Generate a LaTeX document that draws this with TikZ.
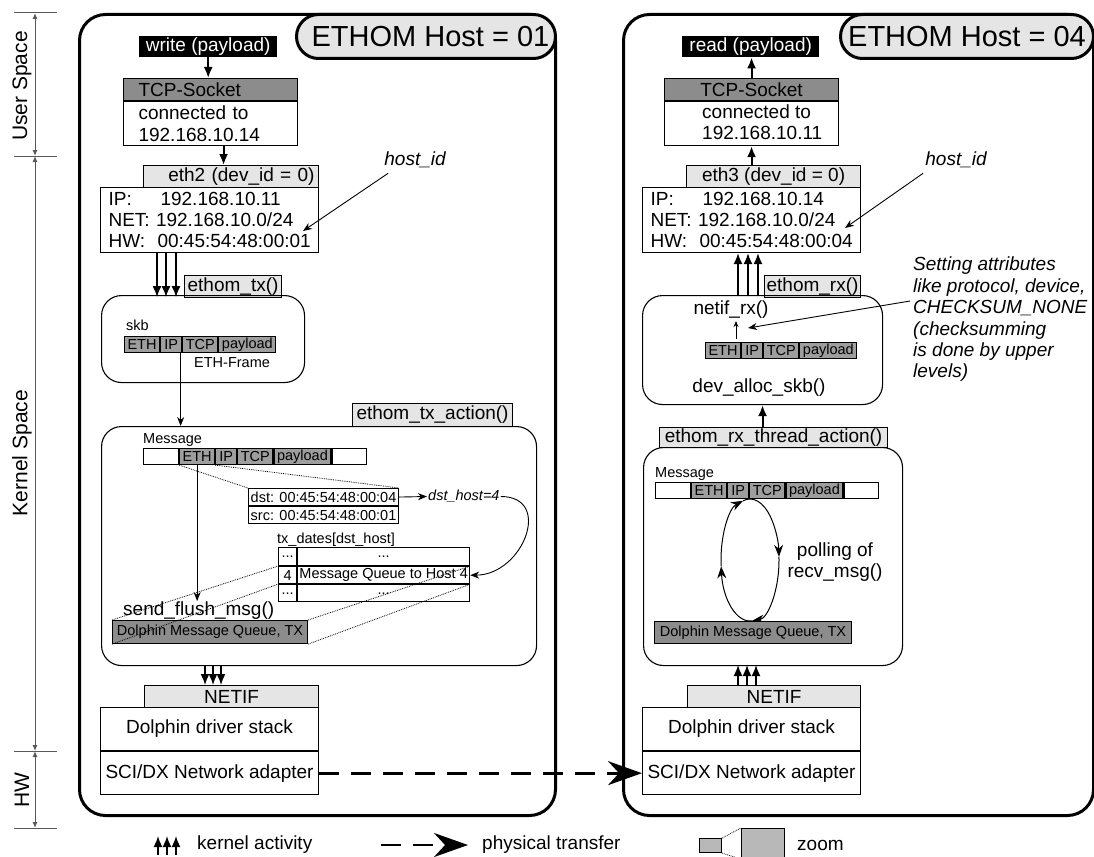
\documentclass[tikz,border=0pt]{standalone}
\usepackage{fontspec}
\setmainfont{Liberation Sans}
\usetikzlibrary{arrows.meta,positioning}
\definecolor{hdrgray}{gray}{0.55}
\definecolor{cellgray}{gray}{0.62}
\definecolor{lblgray}{gray}{0.9}
\definecolor{zoomgray}{gray}{0.72}
\newcommand{\fmain}{\fontsize{19}{21.4}\selectfont}
\newcommand{\fsmall}{\fontsize{14.5}{16}\selectfont}
\newcommand{\fhost}{\fontsize{29}{32}\selectfont}
\newcommand{\fside}{\fontsize{21}{24}\selectfont}
\newcommand{\pkt}[2]{%
  \node[cell,minimum width=35pt] (#1ETH) at (#2) {ETH};
  \node[cell,minimum width=21pt] (#1IP) at (#1ETH.north east) {IP};
  \node[cell,minimum width=35pt] (#1TCP) at (#1IP.north east) {TCP};
  \node[cell,minimum width=57pt] (#1Pay) at (#1TCP.north east) {payload};}

\begin{document}
\begin{tikzpicture}[x=1pt,y=1pt,font=\fmain,
  host/.style={draw,line width=3pt,rounded corners=26pt,anchor=north west,inner sep=0pt},
  pill/.style={draw,line width=3pt,fill=lblgray,rounded corners=22pt,anchor=north west,inner sep=0pt,minimum height=44pt,font=\fhost},
  bx/.style={draw,line width=1.1pt,anchor=north west,inner sep=0pt},
  lbl/.style={bx,fill=lblgray},
  cell/.style={bx,fill=cellgray,font=\fsmall,minimum height=16pt},
  ecell/.style={bx,fill=white,minimum height=16pt},
  call/.style={fill=black,text=white,anchor=north west,inner sep=0pt,minimum height=21pt},
  func/.style={draw,line width=1.1pt,rounded corners=20pt,anchor=north west,inner sep=0pt},
  txt/.style={inner sep=0pt},
  sml/.style={font=\fsmall,inner sep=0pt,anchor=base west},
  flow/.style={line width=2pt,-{Latex[length=11pt,width=9pt]}},
  kact/.style={line width=1.6pt,-{Latex[length=11pt,width=9pt]}},
  ptr/.style={line width=0.9pt,-{Stealth[length=9pt,width=7pt]}},
  zl/.style={line width=0.8pt,densely dotted},
  phys/.style={line width=2.8pt,dash pattern=on 20pt off 12pt,-{Stealth[length=34pt,width=24pt]}},
  poll/.style={line width=1pt,-{Stealth[length=12pt,width=9pt]}},
  brk/.style={black!65,line width=1pt},
]
\useasboundingbox (0,0) rectangle (1094,-856);

% layers
\foreach \y in {13,156,751,828}
  \draw[brk] (14,-\y) -- (57,-\y);
\draw[brk,{Latex[length=6pt,width=5pt]}-{Latex[length=6pt,width=5pt]}] (35,-13) -- (35,-156);
\draw[brk,{Latex[length=6pt,width=5pt]}-{Latex[length=6pt,width=5pt]}] (35,-156) -- (35,-751);
\draw[brk,{Latex[length=6pt,width=5pt]}-{Latex[length=6pt,width=5pt]}] (35,-751) -- (35,-828);
\node[rotate=90,font=\fside,txt] (usrL) at (22,-86) {User Space};
\node[rotate=90,font=\fside,txt] (krnL) at (22,-453) {Kernel Space};
\node[rotate=90,font=\fside,txt] (hwL) at (22,-790) {HW};

% sender
\node[host,minimum width=476pt,minimum height=801pt] (hostL) at (78,-13) {};
\node[pill,minimum width=259pt] (pillL) at (295,-13) {\hspace*{9pt}ETHOM Host = 01};
\node[call,minimum width=138pt] (writeL) at (139,-36) {write (payload)};
\node[bx,fill=hdrgray,minimum height=22pt,text width=144pt,inner xsep=15pt,align=left] (tcpLh) at (123,-78) {TCP-Socket};
\node[bx,minimum height=44pt,text width=144pt,inner xsep=15pt,align=left] (tcpLb) at (tcpLh.south west) {connected to\\192.168.10.14};
\node[lbl,minimum height=22pt,text width=167pt,inner xsep=4pt,align=right] (eth2L) at (143,-165) {eth2 (dev\_id = 0)};
\node[bx,minimum height=65pt,text width=202pt,inner xsep=8pt,align=left] (ipL) at (100,-187)
  {\makebox[52pt][l]{IP:}192.168.10.11\\NET: 192.168.10.0/24\\\makebox[49pt][l]{HW:}00:45:54:48:00:01};
\draw[flow] (writeL.south) -- (writeL.south |- tcpLh.north);
\draw[flow] ([xshift=13pt]tcpLb.south) -- ([xshift=13pt]tcpLb.south |- eth2L.north);
\node[font=\fmain\itshape,txt] (hidL) at (415,-160) {host\_id};
\coordinate (hidLtip) at (303,-231);
\draw[ptr] ([xshift=4pt,yshift=-5pt]hidL.south west) -- (hidLtip);

\node[lbl,minimum width=97pt,minimum height=22pt] (txL) at (184,-275) {ethom\_tx()};
\node[func,minimum width=203pt,minimum height=87pt] (skbL) at (101,-295) {};
\foreach \k in {57,66,76}
  \draw[kact] ([xshift=\k pt]ipL.south west) -- ++(0,-44);
\node[sml] (skbT) at (126,-330) {skb};
\pkt{sk}{124,-336}
\node[sml] (frameL) at (194,-367) {ETH-Frame};

\node[lbl,minimum width=160pt,minimum height=23pt] (txactL) at (352,-403) {ethom\_tx\_action()};
\node[func,minimum width=435pt,minimum height=239pt] (actL) at (101,-426) {};
\draw[ptr] ([xshift=9.5pt]skIP.south) -- ([xshift=9.5pt]skIP.south |- actL.north);
\node[sml] (msgLT) at (143,-443) {Message};
\node[ecell,minimum width=35pt] (mLa) at (143,-448) {};
\pkt{mL}{mLa.north east}
\node[ecell,minimum width=34pt] (mLz) at (mLPay.north east) {};
\node[bx,font=\fsmall,minimum width=150pt,minimum height=17pt] (dstL) at (248,-488) {dst: 00:45:54:48:00:04};
\node[bx,font=\fsmall,minimum width=150pt,minimum height=17pt] (srcL) at (dstL.south west) {src: 00:45:54:48:00:01};
\draw[zl] (mLETH.south west) -- (dstL.north west);
\draw[zl] (mLETH.south east) -- (dstL.north east);
\node[font=\fsmall\itshape,anchor=west,inner sep=1pt] (dhL) at (427,-496.5) {dst\_host=4};
\draw[ptr] (dstL.east) -- (dhL.west);

\node[sml] (tdL) at (277,-543) {tx\_dates[dst\_host]};
\node[bx,font=\fsmall,minimum width=18pt,minimum height=18pt] (r1a) at (278,-547) {...};
\node[bx,font=\fsmall,minimum width=172pt,minimum height=18pt] (r1b) at (r1a.north east) {...};
\node[bx,font=\fsmall,minimum width=18pt,minimum height=17pt] (r2a) at (r1a.south west) {4};
\node[bx,font=\fsmall,minimum width=172pt,minimum height=17pt] (r2b) at (r2a.north east) {Message Queue to Host 4};
\node[bx,font=\fsmall,minimum width=18pt,minimum height=17pt] (r3a) at (r2a.south west) {...};
\node[bx,font=\fsmall,minimum width=172pt,minimum height=17pt] (r3b) at (r3a.north east) {...};
\draw[ptr] (dhL.east) to[out=0,in=0,looseness=1.6] (r2b.east);

\node[anchor=base west,txt] (sendL) at (123,-615) {send\_flush\_msg()};
\draw[ptr] (mLETH.south) -- (mLETH.south |- sendL.north);
\node[bx,fill=hdrgray,font=\fsmall,minimum width=195pt,minimum height=23pt] (dmqL) at (112,-620) {Dolphin Message Queue, TX};
\draw[zl] (dmqL.north west) -- (r2a.north west);
\draw[zl] (dmqL.north east) -- (r2b.north east);
\draw[zl] (dmqL.south west) -- (r2a.south west);
\draw[zl] (dmqL.south east) -- (r2b.south east);

\node[lbl,minimum width=174pt,minimum height=22pt] (netifL) at (144,-685) {NETIF};
\node[bx,minimum width=218pt,minimum height=43pt] (drvL) at (100,-707) {Dolphin driver stack};
\node[bx,minimum width=218pt,minimum height=43pt] (sciL) at (drvL.south west) {SCI/DX Network adapter};
\foreach \k in {61,69,77}
  \draw[kact] ([xshift=\k pt,yshift=20pt]netifL.north west) -- ([xshift=\k pt]netifL.north west);

% receiver
\node[host,minimum width=470pt,minimum height=801pt] (hostR) at (622,-13) {};
\node[pill,minimum width=253pt] (pillR) at (839,-13) {ETHOM Host = 04};
\node[call,minimum width=137pt] (readR) at (682,-36) {read (payload)};
\node[bx,fill=hdrgray,minimum width=174pt,minimum height=22pt] (tcpRh) at (664,-78) {TCP-Socket};
\node[bx,minimum width=174pt,minimum height=44pt] (tcpRb) at (tcpRh.south west) {};
\node[anchor=west,align=left,txt] (tcpRt) at (702,-122) {connected to\\192.168.10.11};
\node[lbl,minimum width=174pt,minimum height=22pt] (eth3R) at (686,-165) {eth3 (dev\_id = 0)};
\node[bx,minimum height=65pt,text width=202pt,inner xsep=8pt,align=left] (ipR) at (642,-187)
  {\makebox[52pt][l]{IP:}192.168.10.14\\NET: 192.168.10.0/24\\\makebox[49pt][l]{HW:}00:45:54:48:00:04};
\draw[flow] (tcpRh.north) -- (tcpRh.north |- readR.south);
\draw[flow] (tcpRb.south |- eth3R.north) -- (tcpRb.south);
\node[font=\fmain\itshape,txt] (hidR) at (956,-160) {host\_id};
\coordinate (hidRtip) at (845,-228);
\draw[ptr] ([xshift=-2pt,yshift=-5pt]hidR.south west) -- (hidRtip);

\node[lbl,minimum width=96pt,minimum height=22pt] (rxlR) at (764,-275) {ethom\_rx()};
\node[func,minimum width=240pt,minimum height=109pt] (rxR) at (642,-295) {};
\foreach \k in {96,106,116}
  \draw[kact] ([xshift=\k pt,yshift=-43pt]ipR.south west) -- ([xshift=\k pt]ipR.south west);
\node[txt] (nrxR) at (731,-310) {netif\_rx()};
\pkt{rx}{705,-342}
\draw[ptr,-{Stealth[length=6pt,width=5pt]}] ([xshift=5pt,yshift=-20pt]nrxR.south) -- ([xshift=5pt,yshift=-2pt]nrxR.south);
\node[txt] (devR) at (759,-388) {dev\_alloc\_skb()};
\node[font=\fmain\itshape,align=left,anchor=north west,txt] (attrR) at (913,-257)
  {Setting attributes\\like protocol, device,\\CHECKSUM\_NONE\\(checksumming\\is done by upper\\levels)};
\coordinate (attrTip) at (748,-328);
\draw[ptr] ([xshift=-3pt,yshift=-44pt]attrR.north west) -- (attrTip);

\node[lbl,minimum width=228pt,minimum height=20pt] (rxtlR) at (659,-427) {ethom\_rx\_thread\_action()};
\draw[flow] (rxR.south |- rxtlR.north) -- (rxR.south);
\node[func,minimum width=259pt,minimum height=218pt] (rxthR) at (643,-447) {};
\node[sml] (msgRT) at (655,-477) {Message};
\node[ecell,minimum width=35pt] (mRa) at (655,-482) {};
\pkt{mR}{mRa.north east}
\node[ecell,minimum width=34pt] (mRz) at (mRPay.north east) {};
\coordinate (loopC) at (750,-560);
\begin{scope}[shift={(loopC)}]
\foreach \a/\b in {186/104,104/3,3/-86,-86/-174}
  \draw[poll] (\a:29 and 61) arc[start angle=\a,end angle=\b,x radius=29,y radius=61];
\end{scope}
\node[align=center,txt] (pollR) at (835,-562) {polling of\\recv\_msg()};
\node[bx,fill=hdrgray,font=\fsmall,minimum width=197pt,minimum height=22pt] (dmqR) at (654,-621) {Dolphin Message Queue, TX};

\node[lbl,minimum width=173pt,minimum height=22pt] (netifR) at (687,-685) {NETIF};
\node[bx,minimum width=218pt,minimum height=43pt] (drvR) at (642,-707) {Dolphin driver stack};
\node[bx,minimum width=218pt,minimum height=43pt] (sciR) at (drvR.south west) {SCI/DX Network adapter};
\foreach \k in {51,60,69}
  \draw[kact] ([xshift=\k pt]netifR.north west) -- ++(0,20);

\draw[phys] (sciL.east) -- (sciR.west);

% legend
\node[anchor=west,txt] (lgK) at (197,-845) {kernel activity};
\foreach \k in {-39,-30,-21}
  \draw[kact] ([xshift=\k pt,yshift=-10pt]lgK.west) -- ++(0,19);
\node[anchor=west,txt] (lgP) at (482,-845) {physical transfer};
\draw[phys] ([xshift=-101pt]lgP.west) -- ([xshift=-14pt]lgP.west);
\node[anchor=west,txt] (lgZ) at (797,-845) {zoom};
\node[bx,fill=zoomgray,minimum width=22pt,minimum height=14pt] (lgZs) at (699,-838) {};
\node[bx,fill=zoomgray,minimum width=43pt,minimum height=30pt] (lgZb) at (741,-828) {};
\draw[zl] (lgZs.north east) -- (lgZb.north west);
\draw[zl] (lgZs.south east) -- (lgZb.south west);
\end{tikzpicture}
\end{document}
